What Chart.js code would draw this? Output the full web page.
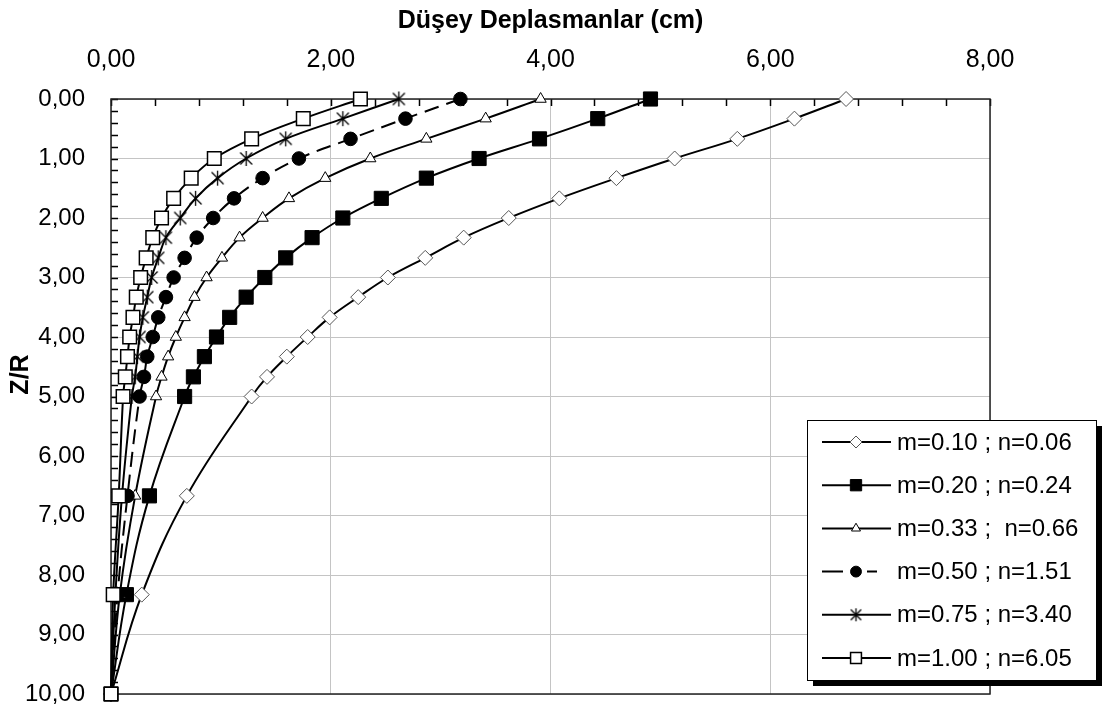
<!DOCTYPE html>
<html>
<head>
<meta charset="utf-8">
<title>Düşey Deplasmanlar</title>
<script src="https://cdn.jsdelivr.net/npm/chart.js@4.4.1/dist/chart.umd.min.js"></script>
<style>
  html, body { margin: 0; padding: 0; background: #fff; }
  #wrap { position: relative; width: 1102px; height: 708px; }
</style>
</head>
<body>
<div id="wrap"><canvas id="myChart"></canvas></div>
<script>
'use strict';

// ******* DATA *******

const zrLevels = [0, 0.33, 0.67, 1, 1.33, 1.67, 2, 2.33, 2.67, 3, 3.33, 3.67, 4, 4.33, 4.67, 5, 6.67, 8.33, 10];

const seriesLabels = [
  'm=0.10 ; n=0.06',
  'm=0.20 ; n=0.24',
  'm=0.33 ;  n=0.66',
  'm=0.50 ; n=1.51',
  'm=0.75 ; n=3.40',
  'm=1.00 ; n=6.05'
];

const dispM010 = [6.69, 6.22, 5.70, 5.13, 4.60, 4.08, 3.62, 3.21, 2.86, 2.52, 2.25, 1.99, 1.79, 1.60, 1.42, 1.28, 0.69, 0.28, 0];
const dispM020 = [4.91, 4.43, 3.90, 3.35, 2.87, 2.46, 2.11, 1.83, 1.59, 1.40, 1.23, 1.08, 0.96, 0.85, 0.75, 0.67, 0.35, 0.14, 0];
const dispM033 = [3.91, 3.41, 2.87, 2.36, 1.95, 1.62, 1.38, 1.17, 1.01, 0.87, 0.76, 0.67, 0.59, 0.52, 0.46, 0.41, 0.22, 0.08, 0];
const dispM050 = [3.18, 2.68, 2.18, 1.71, 1.38, 1.12, 0.93, 0.78, 0.67, 0.57, 0.50, 0.43, 0.38, 0.33, 0.30, 0.26, 0.15, 0.06, 0];
const dispM075 = [2.62, 2.11, 1.59, 1.23, 0.97, 0.77, 0.63, 0.50, 0.43, 0.37, 0.33, 0.29, 0.26, 0.24, 0.22, 0.19, 0.10, 0.04, 0];
const dispM100 = [2.27, 1.75, 1.28, 0.94, 0.73, 0.57, 0.46, 0.38, 0.32, 0.27, 0.23, 0.20, 0.17, 0.15, 0.13, 0.11, 0.07, 0.02, 0];

const xTickValues = [0, 2, 4, 6, 8];
const xTickLabels = ['0,00', '2,00', '4,00', '6,00', '8,00'];
const yTickValues = [0, 1, 2, 3, 4, 5, 6, 7, 8, 9, 10];
const yTickLabels = ['0,00', '1,00', '2,00', '3,00', '4,00', '5,00', '6,00', '7,00', '8,00', '9,00', '10,00'];

const xTitle = 'Düşey Deplasmanlar (cm)';
const yTitle = 'Z/R';


// ******* HELPERS *******

const FONT = '"Liberation Sans", Arial, sans-serif';

function toPoints(values) {
  let pts = [];
  for (let i = 0; i < values.length; i++) {
    pts.push({ x: values[i], y: zrLevels[i] });
  }
  return pts;
}

// excel style star marker: an x with a vertical bar
function makeStar(size) {
  let c = document.createElement('canvas');
  c.width = size;
  c.height = size;
  let g = c.getContext('2d');
  let h = size / 2;
  let r = h - 1;
  g.strokeStyle = '#000';
  g.lineWidth = 1.3;
  g.beginPath();
  g.moveTo(h - r * 0.8, h - r * 0.8); g.lineTo(h + r * 0.8, h + r * 0.8);
  g.moveTo(h + r * 0.8, h - r * 0.8); g.lineTo(h - r * 0.8, h + r * 0.8);
  g.moveTo(h, h - r); g.lineTo(h, h + r);
  g.stroke();
  return c;
}

const starBig = makeStar(17);
const starSmall = makeStar(15);

function makeSeries(i, values, style) {
  return Object.assign({
    label: seriesLabels[i],
    data: toPoints(values),
    showLine: true,
    borderColor: '#000',
    borderWidth: 2,
    tension: 0.4,
    order: -i,
    clip: 12,
    pointBorderColor: '#000',
    pointBorderWidth: 1,
    pointHoverRadius: 0
  }, style);
}

const datasets = [
  makeSeries(0, dispM010, { pointStyle: 'rectRot', pointRadius: 7.5, pointBackgroundColor: '#fff', pointBorderColor: '#555' }),
  makeSeries(1, dispM020, { pointStyle: 'rect', pointRadius: 10, pointBackgroundColor: '#000' }),
  makeSeries(2, dispM033, { pointStyle: 'triangle', pointRadius: 6.5, pointBackgroundColor: '#fff' }),
  makeSeries(3, dispM050, { pointStyle: 'circle', pointRadius: 6.8, pointBackgroundColor: '#000', borderDash: [15, 8] }),
  makeSeries(4, dispM075, { pointStyle: starBig, pointRadius: 8 }),
  makeSeries(5, dispM100, { pointStyle: 'rect', pointRadius: 9.6, pointBackgroundColor: '#fff', pointBorderWidth: 1.5 })
];


// ******* PLUGINS *******

// frame, inward minor ticks and rotated y title (drawn under the series)
const framePlugin = {
  id: 'frame',
  beforeDatasetsDraw(chart) {
    const ctx = chart.ctx;
    const a = chart.chartArea;
    const xs = chart.scales.x;
    const ys = chart.scales.y;
    ctx.save();
    ctx.strokeStyle = '#000';
    ctx.lineWidth = 1.5;
    ctx.beginPath();
    for (let k = 0; k <= 20; k++) {
      let px = Math.round(xs.getPixelForValue(k * 0.4)) + 0.5;
      ctx.moveTo(px, a.top);
      ctx.lineTo(px, a.top + 7);
    }
    for (let k = 0; k <= 50; k++) {
      let py = Math.round(ys.getPixelForValue(k * 0.2)) + 0.5;
      ctx.moveTo(a.left, py);
      ctx.lineTo(a.left + 7, py);
    }
    ctx.stroke();
    ctx.strokeStyle = '#222';
    ctx.lineWidth = 1.5;
    ctx.strokeRect(a.left, a.top, a.right - a.left, a.bottom - a.top);

    ctx.fillStyle = '#000';
    ctx.font = 'bold 25px ' + FONT;
    ctx.textAlign = 'center';
    ctx.textBaseline = 'middle';
    ctx.translate(21, (a.top + a.bottom) / 2 - 22);
    ctx.rotate(-Math.PI / 2);
    ctx.fillText(yTitle, 0, 0);
    ctx.restore();
  }
};

function drawMarker(ctx, ds, x, y, scale) {
  let style = ds.pointStyle;
  if (style instanceof HTMLCanvasElement) {
    ctx.drawImage(starSmall, x - starSmall.width / 2, y - starSmall.height / 2);
    return;
  }
  let opts = {
    pointStyle: style,
    radius: ds.pointRadius * scale,
    rotation: 0,
    borderWidth: ds.pointBorderWidth
  };
  ctx.fillStyle = ds.pointBackgroundColor;
  ctx.strokeStyle = ds.pointBorderColor;
  ctx.lineWidth = ds.pointBorderWidth;
  ctx.setLineDash([]);
  Chart.helpers.drawPoint(ctx, opts, x, y);
}

// boxed legend with drop shadow, bottom right
const legendPlugin = {
  id: 'boxLegend',
  afterDraw(chart) {
    const ctx = chart.ctx;
    const bx = 807, by = 420, bw = 289, bh = 260;
    ctx.save();
    ctx.fillStyle = '#000';
    ctx.fillRect(bx + 6, by + 6, bw, bh);
    ctx.fillStyle = '#fff';
    ctx.fillRect(bx, by, bw, bh);
    ctx.strokeStyle = '#000';
    ctx.lineWidth = 1;
    ctx.strokeRect(bx + 0.5, by + 0.5, bw, bh);

    ctx.font = '24px ' + FONT;
    ctx.textBaseline = 'middle';
    ctx.textAlign = 'left';
    for (let i = 0; i < datasets.length; i++) {
      let ds = datasets[i];
      let ry = by + 22 + i * 43.2;
      ctx.strokeStyle = '#000';
      ctx.lineWidth = 2;
      ctx.setLineDash(ds.borderDash ? [21, 24, 10, 20] : []);
      ctx.beginPath();
      ctx.moveTo(bx + 15, ry);
      ctx.lineTo(bx + 84, ry);
      ctx.stroke();
      drawMarker(ctx, ds, bx + 49, ry, 0.8);
      ctx.fillStyle = '#000';
      ctx.fillText(ds.label, bx + 90, ry + 1);
    }
    ctx.restore();
  }
};


// ******* CHART *******

const ctx = document.getElementById('myChart').getContext('2d');
const myChart = new Chart(ctx, {
  type: 'scatter',
  data: { datasets: datasets },
  options: {
    responsive: true,
    maintainAspectRatio: false,
    devicePixelRatio: 1,
    animation: false,
    layout: { padding: { left: 0, top: 0, right: 112, bottom: 14 } },
    plugins: {
      legend: { display: false },
      tooltip: { enabled: false }
    },
    scales: {
      x: {
        type: 'linear',
        position: 'top',
        min: 0,
        max: 8,
        afterBuildTicks: (scale) => { scale.ticks = xTickValues.map(v => ({ value: v })); },
        afterFit: (scale) => {
          scale.height = 99;
          scale.paddingLeft = 0;
          scale.paddingRight = 0;
        },
        ticks: {
          callback: (v) => xTickLabels[xTickValues.indexOf(v)],
          color: '#000',
          font: { family: FONT, size: 25 },
          padding: 24,
          maxRotation: 0
        },
        grid: { color: '#c4c4c4', lineWidth: 1, drawTicks: false },
        border: { display: false },
        title: {
          display: true,
          text: xTitle,
          color: '#000',
          font: { family: FONT, size: 25, weight: 'bold' },
          padding: { top: 6, bottom: 0 }
        }
      },
      y: {
        type: 'linear',
        reverse: true,
        min: 0,
        max: 10,
        afterBuildTicks: (scale) => { scale.ticks = yTickValues.map(v => ({ value: v })); },
        afterFit: (scale) => {
          scale.width = 111;
          scale.paddingTop = 0;
          scale.paddingBottom = 0;
        },
        ticks: {
          callback: (v) => yTickLabels[yTickValues.indexOf(v)],
          color: '#000',
          font: { family: FONT, size: 24 },
          padding: 26
        },
        grid: { color: '#c4c4c4', lineWidth: 1, drawTicks: false },
        border: { display: false }
      }
    }
  },
  plugins: [framePlugin, legendPlugin]
});
</script>
</body>
</html>
